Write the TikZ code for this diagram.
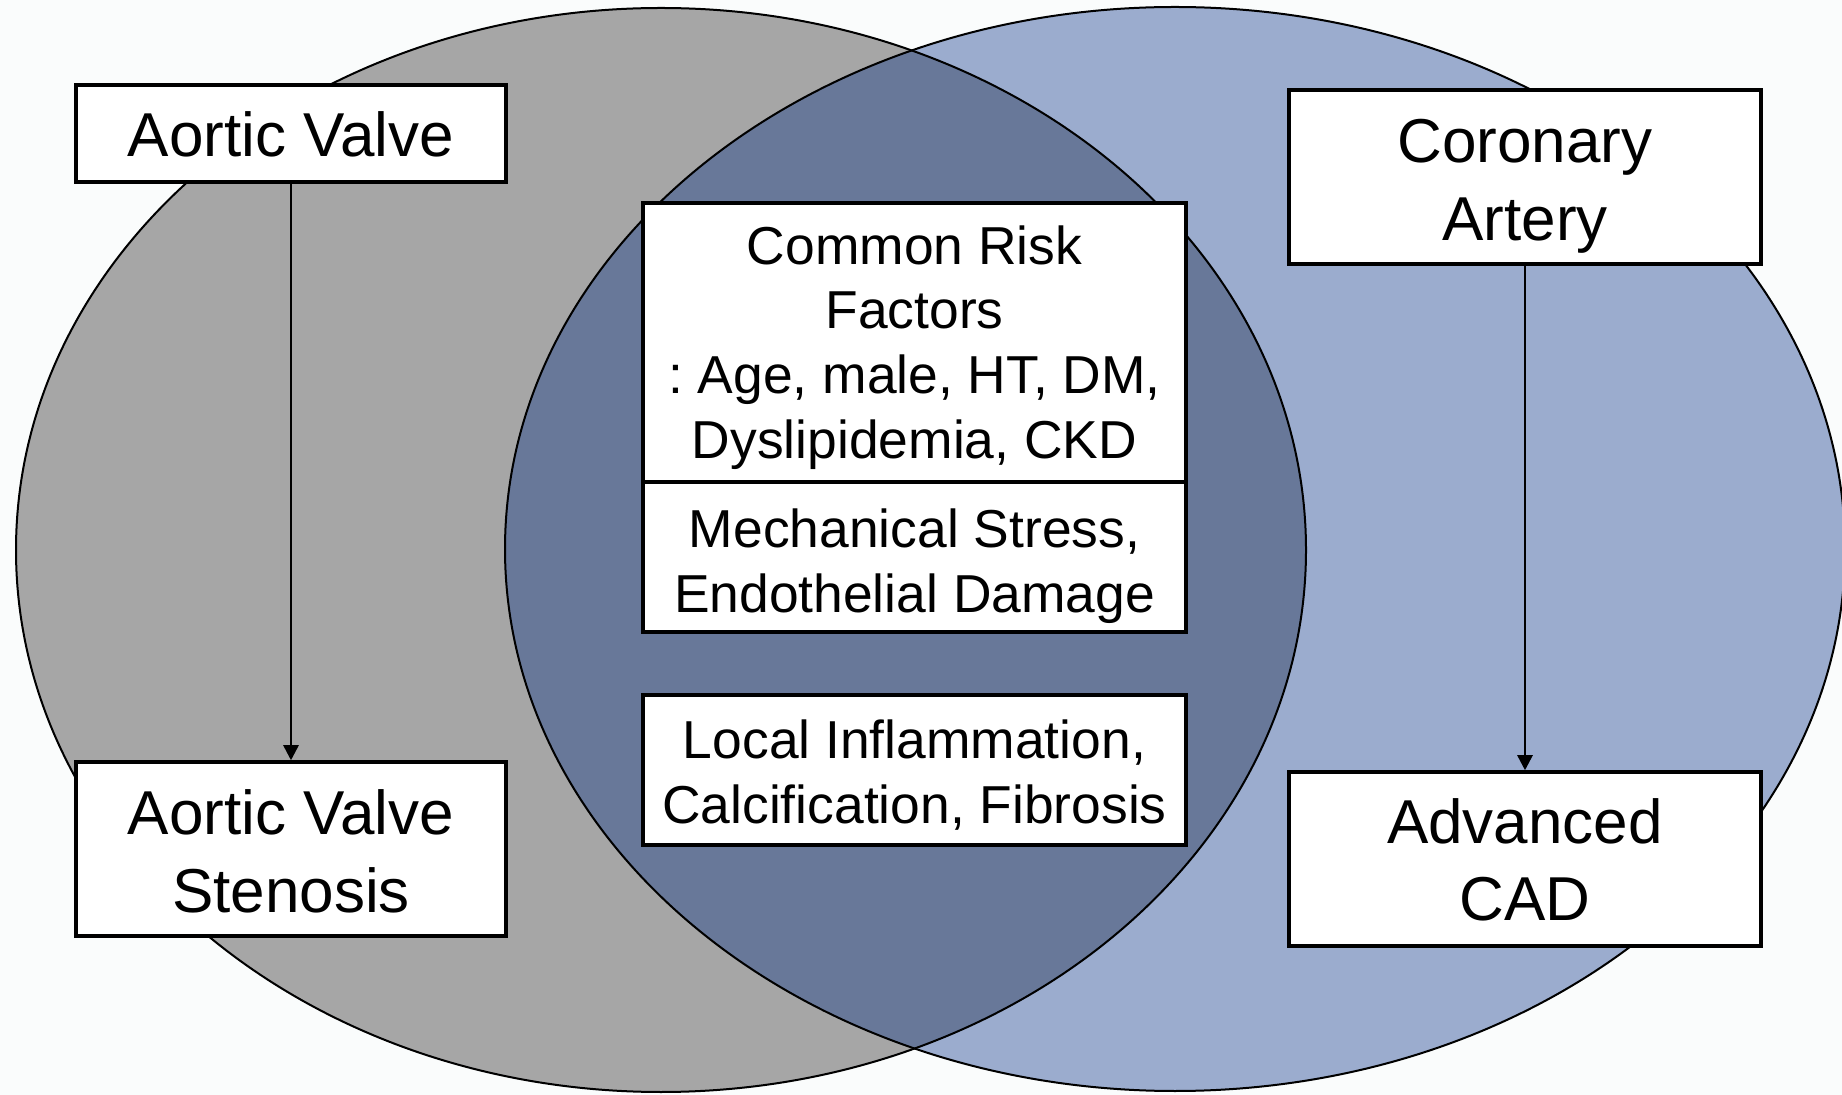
\documentclass[tikz,border=0pt]{standalone}
\usepackage{fontspec}
\setmainfont{Liberation Sans}
\frenchspacing
\usetikzlibrary{arrows.meta}
\definecolor{bgc}{RGB}{250,252,252}
\definecolor{grayfill}{RGB}{166,166,166}
\definecolor{bluefill}{RGB}{155,172,206}
\definecolor{overlapfill}{RGB}{104,120,153}
\tikzset{
  boxshape/.style={draw=black, line width=1.75pt, fill=white, inner sep=0pt},
  bigtext/.style={inner sep=0pt, align=center, font=\fontsize{31}{38.75}\selectfont},
  midtext/.style={inner sep=0pt, align=center, font=\fontsize{26.7}{32.3}\selectfont},
  flow/.style={line width=1.3pt, -{Triangle[width=7.5pt,length=7.5pt]}},
  venn/.style={draw=black, line width=1pt}
}
\begin{document}
\begin{tikzpicture}[x=0.5pt,y=-0.5pt]
\useasboundingbox (0,0) rectangle (1842,1095);
\fill[bgc] (0,0) rectangle (1842,1095);
\clip (0,0) rectangle (1842,1095);
% Venn ellipses
\fill[grayfill] (661,550) ellipse [x radius=322.5pt, y radius=271pt];
\fill[bluefill] (1175,549) ellipse [x radius=335pt, y radius=271pt];
\begin{scope}
  \clip (661,550) ellipse [x radius=322.5pt, y radius=271pt];
  \fill[overlapfill] (1175,549) ellipse [x radius=335pt, y radius=271pt];
\end{scope}
\draw[venn] (661,550) ellipse [x radius=322.5pt, y radius=271pt];
\draw[venn] (1175,549) ellipse [x radius=335pt, y radius=271pt];
% Boxes
\node[boxshape, minimum width=215pt, minimum height=48.5pt] (av) at (291,133.5) {};
\node[boxshape, minimum width=215pt, minimum height=87pt] (avs) at (291,849) {};
\node[boxshape, minimum width=236pt, minimum height=87pt] (ca) at (1525,177) {};
\node[boxshape, minimum width=236pt, minimum height=87pt] (cad) at (1525,859) {};
\node[boxshape, minimum width=271.5pt, minimum height=139.5pt] (crf) at (914.5,342.5) {};
\node[boxshape, minimum width=271.5pt, minimum height=75pt] (ms) at (914.5,557) {};
\node[boxshape, minimum width=271.5pt, minimum height=75pt] (li) at (914.5,770) {};
% Texts
\node[bigtext, yshift=-0.6pt] (avtext) at (av) {Aortic Valve};
\node[bigtext, yshift=-1.2pt] (avstext) at (avs) {Aortic Valve\\Stenosis};
\node[bigtext, yshift=-4.7pt] (catext) at (ca) {Coronary\\Artery};
\node[bigtext, yshift=-0.3pt] (cadtext) at (cad) {Advanced\\CAD};
\node[midtext, yshift=-2.4pt] (crftext) at (crf) {Common Risk\\Factors\\: Age, male, HT, DM,\\Dyslipidemia, CKD};
\node[midtext, yshift=-4.7pt] (mstext) at (ms) {Mechanical Stress,\\Endothelial Damage};
\node[midtext, yshift=-2.4pt] (litext) at (li) {Local Inflammation,\\Calcification, Fibrosis};
% Arrows
\draw[flow] (av) -- (avs);
\draw[flow] (ca) -- (cad);
\end{tikzpicture}
\end{document}
